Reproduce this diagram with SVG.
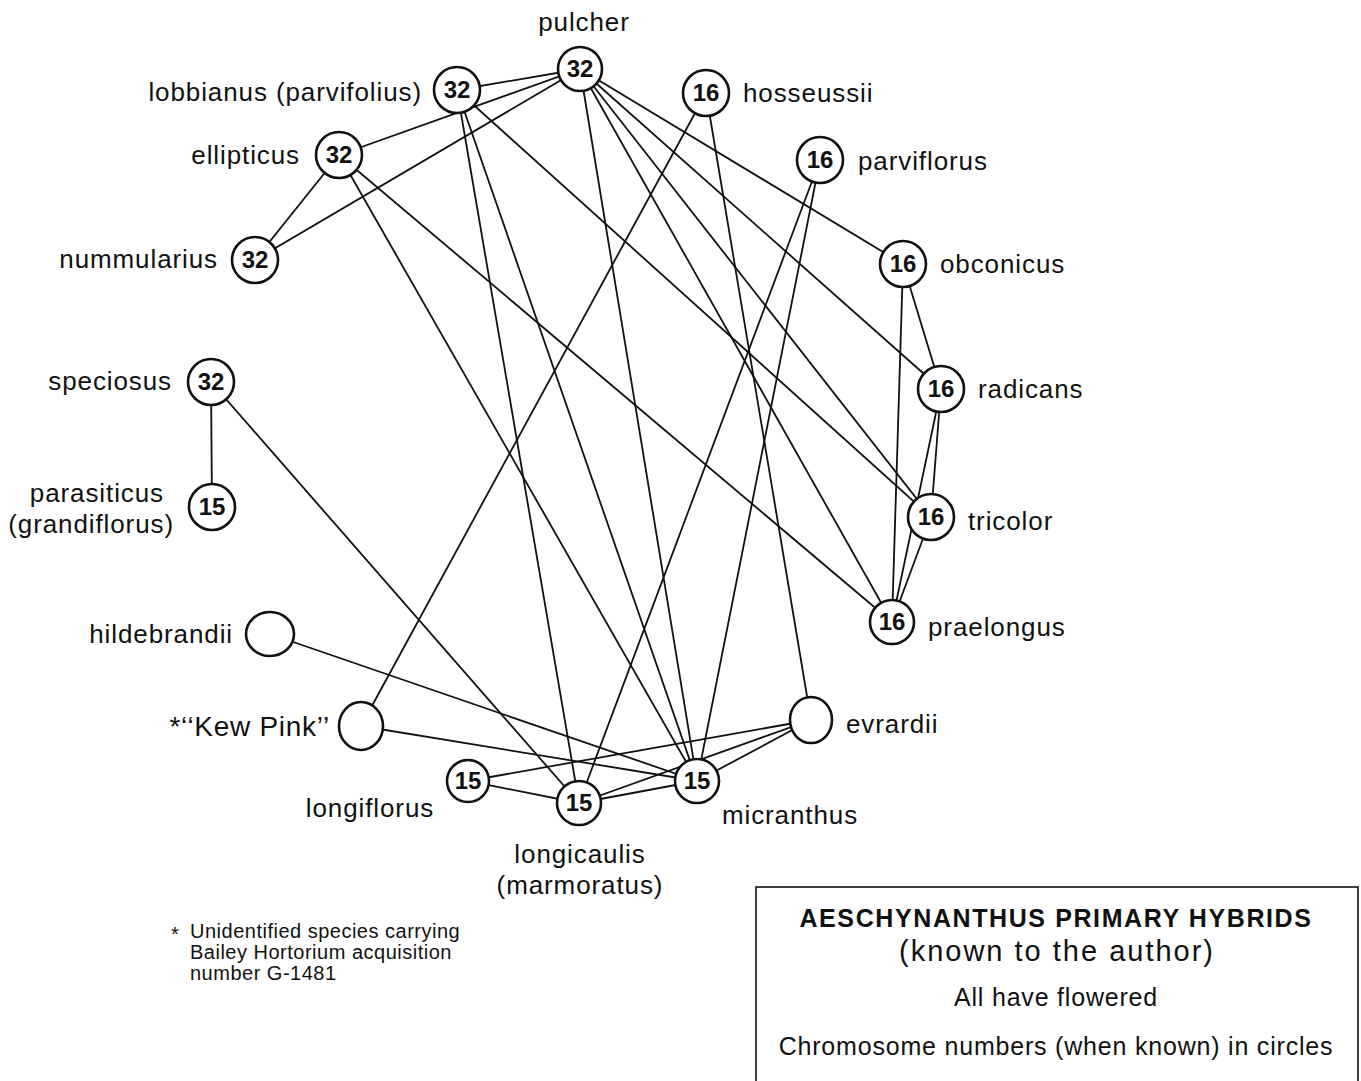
<svg xmlns="http://www.w3.org/2000/svg" width="1361" height="1081" viewBox="0 0 1361 1081">
<style>
.bg{fill:#fff}
.e line{stroke:#111;stroke-width:1.8}
.n{fill:#fff;stroke:#111;stroke-width:2.6}
.num{font-family:"Liberation Sans",Arial,sans-serif;font-weight:bold;font-size:24px;text-anchor:middle;fill:#111}
.lb{font-family:"Liberation Sans",Arial,sans-serif;font-size:26px;letter-spacing:0.9px;fill:#111}
.r{text-anchor:end}
.m{text-anchor:middle}
.lg{font-family:"Liberation Sans",Arial,sans-serif;font-size:25px;letter-spacing:0.8px;text-anchor:middle;fill:#111}
.fn{font-family:"Liberation Sans",Arial,sans-serif;font-size:20px;letter-spacing:0.5px;fill:#111}
</style>
<rect class="bg" x="0" y="0" width="1361" height="1081"/>
<g id="connectors" class="e">
<line x1="580" y1="69" x2="457" y2="90"/>
<line x1="580" y1="69" x2="339" y2="155"/>
<line x1="580" y1="69" x2="255" y2="260"/>
<line x1="580" y1="69" x2="697" y2="781"/>
<line x1="580" y1="69" x2="892" y2="622"/>
<line x1="580" y1="69" x2="931" y2="517"/>
<line x1="580" y1="69" x2="941" y2="389"/>
<line x1="580" y1="69" x2="903" y2="264"/>
<line x1="457" y1="90" x2="579" y2="803"/>
<line x1="457" y1="90" x2="697" y2="781"/>
<line x1="457" y1="90" x2="931" y2="517"/>
<line x1="339" y1="155" x2="255" y2="260"/>
<line x1="339" y1="155" x2="697" y2="781"/>
<line x1="339" y1="155" x2="892" y2="622"/>
<line x1="211" y1="382" x2="212" y2="507"/>
<line x1="211" y1="382" x2="579" y2="803"/>
<line x1="270" y1="634" x2="697" y2="781"/>
<line x1="361" y1="726" x2="706" y2="93"/>
<line x1="361" y1="726" x2="697" y2="781"/>
<line x1="706" y1="93" x2="811" y2="720"/>
<line x1="820" y1="160" x2="579" y2="803"/>
<line x1="820" y1="160" x2="697" y2="781"/>
<line x1="903" y1="264" x2="941" y2="389"/>
<line x1="903" y1="264" x2="892" y2="622"/>
<line x1="941" y1="389" x2="931" y2="517"/>
<line x1="941" y1="389" x2="892" y2="622"/>
<line x1="931" y1="517" x2="892" y2="622"/>
<line x1="468" y1="781" x2="579" y2="803"/>
<line x1="468" y1="781" x2="811" y2="720"/>
<line x1="579" y1="803" x2="697" y2="781"/>
<line x1="579" y1="803" x2="811" y2="720"/>
<line x1="697" y1="781" x2="811" y2="720"/>
</g>
<g id="pulcher"><circle class="n" cx="580" cy="69" r="22"/><text class="num" x="580" y="77">32</text><text class="lb m" x="584" y="31">pulcher</text></g>
<g id="lobbianus"><circle class="n" cx="457" cy="90" r="23"/><text class="num" x="457" y="98">32</text><text class="lb r" x="422" y="101">lobbianus (parvifolius)</text></g>
<g id="ellipticus"><circle class="n" cx="339" cy="155" r="23"/><text class="num" x="339" y="163">32</text><text class="lb r" x="300" y="164">ellipticus</text></g>
<g id="nummularius"><circle class="n" cx="255" cy="260" r="23"/><text class="num" x="255" y="268">32</text><text class="lb r" x="218" y="268">nummularius</text></g>
<g id="speciosus"><circle class="n" cx="211" cy="382" r="23"/><text class="num" x="211" y="390">32</text><text class="lb r" x="172" y="390">speciosus</text></g>
<g id="parasiticus"><circle class="n" cx="212" cy="507" r="23"/><text class="num" x="212" y="515">15</text><text class="lb r" x="164" y="502">parasiticus</text><text class="lb r" x="174" y="533">(grandiflorus)</text></g>
<g id="hildebrandii"><ellipse class="n" cx="270" cy="634" rx="24" ry="22"/><text class="lb r" x="233" y="643">hildebrandii</text></g>
<g id="kewpink"><ellipse class="n" cx="361" cy="726" rx="22" ry="24"/><text class="lb r" x="330" y="736" style="font-size:28px;letter-spacing:0.7px">*‘‘Kew Pink’’</text></g>
<g id="longiflorus"><circle class="n" cx="468" cy="781" r="21"/><text class="num" x="468" y="789">15</text><text class="lb m" x="370" y="817">longiflorus</text></g>
<g id="longicaulis"><circle class="n" cx="579" cy="803" r="22"/><text class="num" x="579" y="811">15</text><text class="lb m" x="580" y="863">longicaulis</text><text class="lb m" x="580" y="894">(marmoratus)</text></g>
<g id="micranthus"><circle class="n" cx="697" cy="781" r="22"/><text class="num" x="697" y="789">15</text><text class="lb m" x="790" y="824">micranthus</text></g>
<g id="evrardii"><ellipse class="n" cx="811" cy="720" rx="21" ry="23"/><text class="lb" x="846" y="733">evrardii</text></g>
<g id="praelongus"><circle class="n" cx="892" cy="622" r="22"/><text class="num" x="892" y="630">16</text><text class="lb" x="928" y="636">praelongus</text></g>
<g id="tricolor"><circle class="n" cx="931" cy="517" r="23"/><text class="num" x="931" y="525">16</text><text class="lb" x="968" y="530">tricolor</text></g>
<g id="radicans"><circle class="n" cx="941" cy="389" r="23"/><text class="num" x="941" y="397">16</text><text class="lb" x="978" y="398">radicans</text></g>
<g id="obconicus"><circle class="n" cx="903" cy="264" r="23"/><text class="num" x="903" y="272">16</text><text class="lb" x="940" y="273">obconicus</text></g>
<g id="parviflorus"><circle class="n" cx="820" cy="160" r="23"/><text class="num" x="820" y="168">16</text><text class="lb" x="858" y="170">parviflorus</text></g>
<g id="hosseussii"><circle class="n" cx="706" cy="93" r="23"/><text class="num" x="706" y="101">16</text><text class="lb" x="743" y="102">hosseussii</text></g>
<g id="footnote">
<text class="fn" x="171" y="941">*</text>
<text class="fn" x="190" y="938">Unidentified species carrying</text>
<text class="fn" x="190" y="959">Bailey Hortorium acquisition</text>
<text class="fn" x="190" y="980">number G-1481</text>
</g>
<g id="legend">
<rect x="756" y="887" width="602" height="240" fill="none" stroke="#111" stroke-width="1.6"/>
<text class="lg" x="1056" y="927" style="font-weight:bold;letter-spacing:1.6px">AESCHYNANTHUS PRIMARY HYBRIDS</text>
<text class="lg" x="1057" y="961" style="font-size:29px;letter-spacing:2px">(known to the author)</text>
<text class="lg" x="1056" y="1006">All have flowered</text>
<text class="lg" x="1056" y="1055">Chromosome numbers (when known) in circles</text>
</g>
</svg>
